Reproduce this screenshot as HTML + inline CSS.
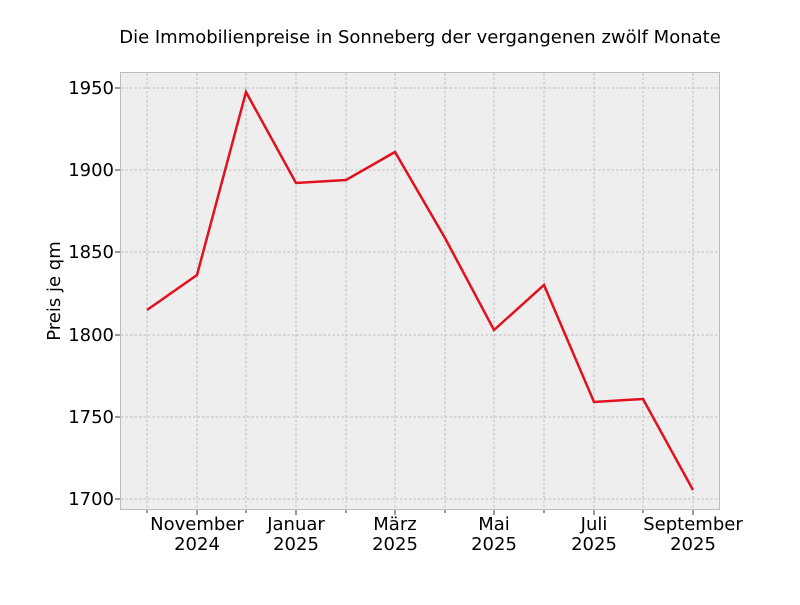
<!DOCTYPE html>
<html><head><meta charset="utf-8"><style>body{margin:0;background:#fff}</style></head>
<body>
<svg width="800" height="600" xmlns="http://www.w3.org/2000/svg" font-family="DejaVu Sans, sans-serif">
<rect width="800" height="600" fill="#fff"/>
<text x="420" y="43" font-size="18" text-anchor="middle" fill="#000">Die Immobilienpreise in Sonneberg der vergangenen zwölf Monate</text>
<rect x="120.5" y="72.5" width="599" height="437" fill="#eeeeee" stroke="#bcbcbc" stroke-width="1"/>
<g stroke="#b0b0b0" stroke-width="0.8" stroke-dasharray="2.5,2">
<line x1="147" y1="73" x2="147" y2="509"/><line x1="197" y1="73" x2="197" y2="509"/><line x1="246" y1="73" x2="246" y2="509"/><line x1="296" y1="73" x2="296" y2="509"/><line x1="346" y1="73" x2="346" y2="509"/><line x1="395" y1="73" x2="395" y2="509"/><line x1="445" y1="73" x2="445" y2="509"/><line x1="494" y1="73" x2="494" y2="509"/><line x1="544" y1="73" x2="544" y2="509"/><line x1="594" y1="73" x2="594" y2="509"/><line x1="643" y1="73" x2="643" y2="509"/><line x1="693" y1="73" x2="693" y2="509"/>
<line x1="121" y1="88" x2="719" y2="88"/><line x1="121" y1="170" x2="719" y2="170"/><line x1="121" y1="252" x2="719" y2="252"/><line x1="121" y1="335" x2="719" y2="335"/><line x1="121" y1="417" x2="719" y2="417"/><line x1="121" y1="499" x2="719" y2="499"/>
</g>
<g stroke="#000" stroke-width="0.8">
<line x1="115" y1="88" x2="120" y2="88"/><line x1="115" y1="170" x2="120" y2="170"/><line x1="115" y1="252" x2="120" y2="252"/><line x1="115" y1="335" x2="120" y2="335"/><line x1="115" y1="417" x2="120" y2="417"/><line x1="115" y1="499" x2="120" y2="499"/>
<line x1="197" y1="510" x2="197" y2="515"/><line x1="296" y1="510" x2="296" y2="515"/><line x1="395" y1="510" x2="395" y2="515"/><line x1="494" y1="510" x2="494" y2="515"/><line x1="594" y1="510" x2="594" y2="515"/><line x1="693" y1="510" x2="693" y2="515"/>
<line x1="147" y1="510" x2="147" y2="513"/><line x1="246" y1="510" x2="246" y2="513"/><line x1="346" y1="510" x2="346" y2="513"/><line x1="445" y1="510" x2="445" y2="513"/><line x1="544" y1="510" x2="544" y2="513"/><line x1="643" y1="510" x2="643" y2="513"/>
</g>
<g font-size="18" fill="#000" text-anchor="end">
<text x="114" y="94">1950</text><text x="114" y="176">1900</text><text x="114" y="258">1850</text><text x="114" y="341">1800</text><text x="114" y="423">1750</text><text x="114" y="505">1700</text>
</g>
<g font-size="18" fill="#000" text-anchor="middle">
<text x="197" y="530">November</text><text x="197" y="550">2024</text>
<text x="296" y="530">Januar</text><text x="296" y="550">2025</text>
<text x="395" y="530">März</text><text x="395" y="550">2025</text>
<text x="494" y="530">Mai</text><text x="494" y="550">2025</text>
<text x="594" y="530">Juli</text><text x="594" y="550">2025</text>
<text x="693" y="530">September</text><text x="693" y="550">2025</text>
</g>
<text transform="translate(60,291) rotate(-90)" font-size="18" text-anchor="middle">Preis je qm</text>
<polyline fill="none" stroke="#e3101e" stroke-width="2.5" stroke-linejoin="miter" points="147,310 197,275 246,92 296,183 346,180 395,152 445,238 494,330 544,285 594,402 643,399 693,490"/>
</svg>
</body></html>
